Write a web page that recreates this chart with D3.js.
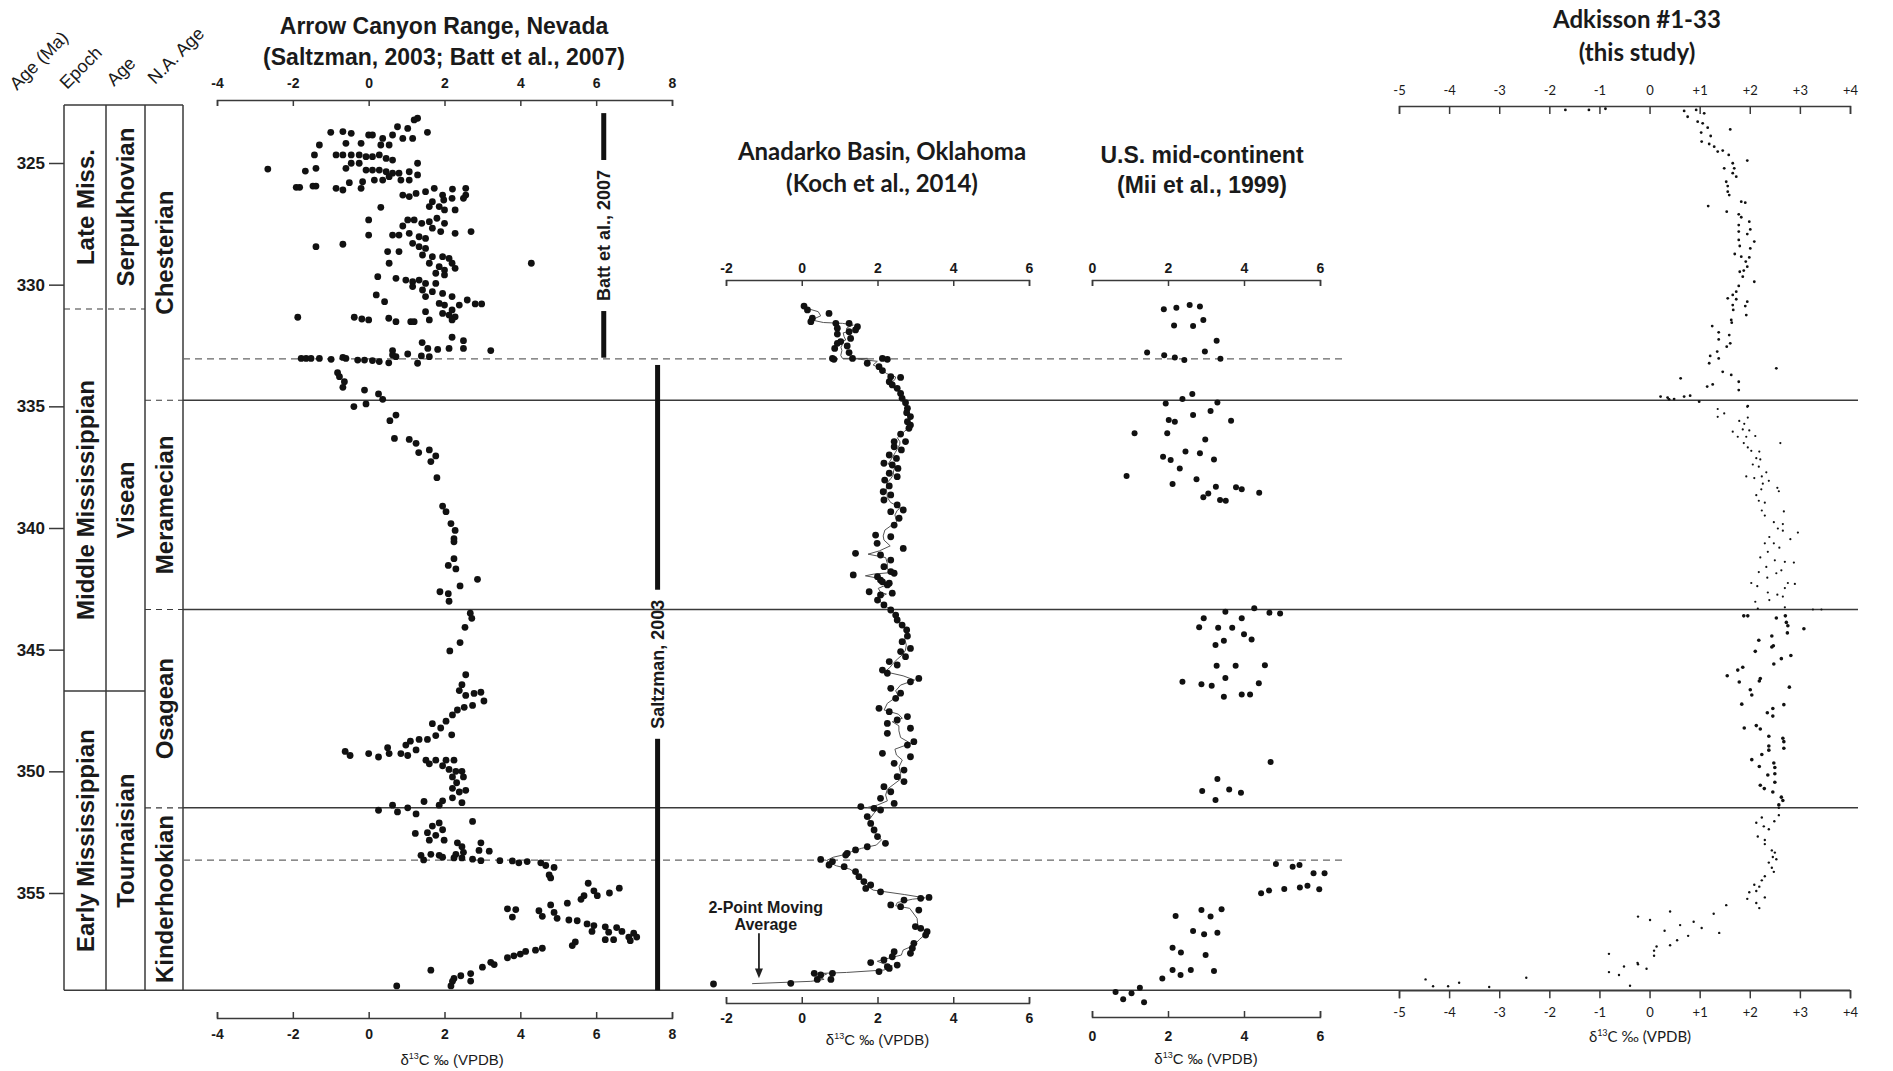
<!DOCTYPE html>
<html>
<head>
<meta charset="utf-8">
<script src="https://cdn.jsdelivr.net/npm/d3@7"></script>
<style>
  body { margin: 0; background: #fff; }
  svg { display: block; }
  text { font-family: "Liberation Sans", Arial, sans-serif; fill: #1a1a1a; }
</style>
</head>
<body>
<div id="chart"></div>
<script>
// ---- chronostratigraphy (ages in Ma) ----
const ageTicks = [325, 330, 335, 340, 345, 350, 355];
const epochNames = ["Late Miss.", "Middle Mississippian", "Early Mississippian"];
const epochBounds = [322.62, 331.0, 346.7, 359.0];
const stageNames = ["Serpukhovian", "Visean", "Tournaisian"];
const stageBounds = [322.62, 331.0, 346.7, 359.0];
const naNames = ["Chesterian", "Meramecian", "Osagean", "Kinderhookian"];
const naBounds = [322.62, 334.75, 343.35, 351.5, 359.0];
const solidLines = [334.75, 343.35, 351.5];
const dashedLines = [333.05, 353.65];
const headers = ["Age (Ma)", "Epoch", "Age", "N.A. Age"];

// ---- axis ticks ----
const arrowTicks = [-4, -2, 0, 2, 4, 6, 8];
const anadarkoTicks = [-2, 0, 2, 4, 6];
const miiTicks = [0, 2, 4, 6];
const adkTicks = [-5, -4, -3, -2, -1, 0, 1, 2, 3, 4];
const adkTickLabels = ["-5", "-4", "-3", "-2", "-1", "0", "+1", "+2", "+3", "+4"];

// ---- Arrow Canyon (Saltzman 2003; Batt et al. 2007) [age, d13C] ----
const arrowCanyon = [
[323.16,1.29],[323.23,1.20],[323.58,1.03],[323.51,0.76],[323.74,1.55],[323.74,-1.00],[323.71,-0.68],[323.78,-0.46],[323.85,0.00],[323.85,0.10],[323.99,0.37],[323.85,0.63],[323.99,0.90],[323.99,1.16],[324.19,-0.60],[324.19,-0.20],[324.26,0.32],[324.26,0.54],[324.26,-1.30],[324.67,-1.43],[324.67,-0.86],[324.67,-0.68],[324.67,-0.46],[324.67,-0.25],[324.74,-0.07],[324.74,0.10],[324.67,0.28],[324.81,0.46],[324.88,0.63],[325.01,1.29],
[325.25,-2.66],[325.33,-1.67],[325.22,-1.39],[325.22,-0.60],[325.01,-0.46],[325.01,-0.25],[325.29,-0.07],[325.29,0.10],[325.29,0.28],[325.36,0.46],[325.42,0.63],[325.42,0.80],[325.36,1.07],[325.49,1.29],
[325.77,-0.16],[325.70,0.15],[325.70,0.37],[325.56,0.54],[325.70,0.85],[325.70,1.07],[325.81,-0.51],
[326.00,-1.91],[326.00,-1.82],[325.95,-1.47],[325.95,-1.39],[326.04,-0.86],[326.11,-0.68],[326.04,-0.20],
[326.32,0.90],[326.38,1.07],[326.25,1.25],[326.18,1.50],[326.04,1.73],[326.32,1.95],[326.07,2.21],[326.04,2.56],[326.32,2.56],[326.45,2.50],[326.45,2.20],[326.52,1.98],[326.59,1.68],
[326.79,1.60],[326.79,1.86],[326.93,2.00],[326.93,2.28],[326.82,0.32],
[327.34,0.00],[327.34,1.03],[327.34,1.20],[327.48,1.40],[327.41,1.60],[327.27,1.80],[327.48,2.00],[327.68,1.68],[327.82,1.90],[327.89,2.28],[327.82,2.70],[327.59,0.90],
[327.96,0.63],[327.96,0.80],[327.89,1.07],[328.03,1.33],[328.10,1.50],[327.96,0.00],
[328.44,-1.39],[328.34,-0.68],[328.30,1.16],[328.44,1.33],[328.51,1.50],[328.64,0.50],[328.64,0.80],[328.78,1.42],[328.85,1.68],[328.85,1.95],[328.92,2.12],[329.12,2.20],[329.12,4.29],[329.12,0.54],[329.12,1.60],[329.26,1.86],[329.40,2.00],[329.33,2.28],[329.53,1.77],[329.60,2.00],
[329.67,0.24],[329.74,0.72],[329.81,0.98],[329.88,1.16],[329.81,1.33],[329.95,1.50],[329.95,1.77],[330.08,1.16],[330.22,1.42],[330.29,1.68],[330.36,1.95],[330.42,0.20],[330.49,1.50],[330.49,2.20],
[330.70,0.42],[330.77,1.86],[330.84,2.00],[330.84,2.39],[330.63,2.60],[330.79,2.81],[330.79,2.98],[331.04,2.20],[331.18,1.95],[331.25,2.12],[331.32,2.28],[331.11,1.50],
[331.34,-1.87],[331.34,-0.38],[331.41,-0.18],[331.45,0.00],[331.38,0.53],[331.52,0.72],[331.52,1.11],[331.52,1.20],[331.45,1.60],[331.45,2.20],
[332.16,2.20],[332.30,2.50],[332.62,2.50],[332.62,2.12],[332.66,1.82],[332.62,1.56],[332.38,1.41],[332.71,3.22],[332.93,1.39],[332.96,1.60],[332.85,1.03],[332.71,0.63],[332.96,0.72],[333.23,1.29],
[333.03,-1.78],[333.03,-1.65],[333.03,-1.52],[333.03,-1.30],[333.07,-0.99],[332.99,-0.68],[333.03,-0.60],[333.10,-0.29],[333.10,-0.11],[333.12,0.10],[333.16,0.28],[333.21,0.53],[332.89,0.63],
[333.62,-0.82],[333.78,-0.77],[333.99,-0.64],[334.22,-0.68],[334.33,-0.11],[334.49,0.26],[334.71,0.37],[334.90,-0.07],[335.01,-0.39],
[335.36,0.72],[335.59,0.56],[336.32,0.68],[336.36,1.07],[336.52,1.25],[336.90,1.32],[336.79,1.60],[337.04,1.77],[337.27,1.64],[337.93,1.80],
[339.10,1.95],[339.33,2.04],[339.82,2.17],[340.10,2.28],[340.44,2.25],[340.57,2.25],[341.26,2.25],[341.54,2.10],[341.68,2.30],[342.11,2.87],[342.38,2.41],[342.62,1.88],[342.70,2.10],[343.01,2.12],
[343.50,2.68],[343.71,2.72],[344.08,2.54],[344.71,2.41],[345.05,2.14],[346.03,2.56],[346.44,2.46],[346.68,2.39],[346.88,2.56],[346.80,2.78],[346.75,2.96],[347.11,3.04],[347.29,2.74],[347.37,2.52],[347.48,2.34],[347.68,2.21],[347.94,2.04],[348.04,1.68],[348.22,1.90],[348.50,2.19],[348.53,1.77],[348.69,1.55],[348.69,1.33],[348.76,1.10],[348.92,0.98],[349.12,1.25],[349.27,0.85],[349.35,1.03],[349.03,0.50],[349.27,0.54],[349.41,0.26],[349.27,0.00],[349.18,-0.62],[349.35,-0.49],
[349.54,1.51],[349.69,1.60],[349.54,1.77],[349.54,2.04],[349.54,2.25],[349.77,1.95],[349.92,2.12],[350.00,2.30],[350.00,2.46],[350.23,2.21],[350.23,2.50],[350.47,2.32],[350.70,2.21],[350.78,2.56],[350.85,2.39],[351.09,2.21],[351.29,2.46],[351.21,1.95],[351.24,1.46],[351.39,1.86],
[351.39,0.63],[351.60,0.26],[351.67,0.76],[351.50,1.03],[351.75,1.25],
[352.06,2.74],[352.12,1.86],[352.40,1.95],[352.25,1.68],[352.52,1.55],[352.55,1.23],[352.63,1.77],[352.83,1.60],[352.83,1.99],[352.94,2.34],[353.10,2.46],[352.94,2.96],[353.25,2.91],[353.28,3.18],
[353.45,1.38],[353.41,1.64],[353.45,1.86],[353.41,2.30],[353.33,2.50],[353.61,2.74],[353.64,1.45],[353.53,1.95],[353.56,2.25],[353.56,2.46],[353.67,2.96],
[353.67,3.46],[353.68,3.79],[353.76,3.96],[353.71,4.18],[353.76,4.54],[353.87,4.67],[353.95,4.89],[354.26,4.76],[354.38,4.80],
[354.60,5.79],[354.91,5.94],[355.11,6.03],[354.80,6.61],[355.00,6.35],[355.11,5.68],[355.26,5.60],[355.42,5.24],
[355.65,3.66],[355.68,3.88],[355.99,3.79],[355.73,4.49],[355.96,4.58],[355.49,4.80],[355.80,4.89],[356.04,4.97],
[356.11,5.28],[356.14,5.50],[356.27,5.76],[356.34,5.94],[356.58,5.89],[356.39,6.24],[356.61,6.33],[356.42,6.54],[356.58,6.68],[356.81,6.86],[356.65,6.99],[356.81,7.07],[356.92,6.24],[356.92,6.46],[356.96,6.90],
[357.01,5.45],[357.16,5.37],[357.27,4.58],[357.35,4.40],[357.40,4.14],[357.51,4.00],[357.58,3.83],[357.66,3.66],
[357.85,3.22],[357.94,3.31],[358.05,3.00],[358.17,1.64],[358.40,2.43],[358.51,2.25],[358.31,2.69],[358.62,2.69],[358.63,2.21],[358.82,2.17],[358.82,0.74]
];

// ---- Anadarko Basin (Koch et al. 2014) [age, d13C] ----
const anadarko = [
[330.88,0.06],[331.04,0.15],[331.18,0.72],[331.38,0.28],[331.52,0.24],[331.59,0.90],[331.59,1.25],[331.73,1.47],[331.79,0.94],[331.93,1.25],[331.86,1.42],[332.03,0.94],[332.21,1.29],[332.34,1.03],[332.41,0.94],[332.52,1.20],[332.62,0.87],[332.79,1.25],[333.03,0.81],[333.07,0.85],[333.03,1.34],[333.03,2.13],[333.07,2.26],[333.23,1.73],[333.37,2.04],[333.53,2.13],[333.78,2.35],[333.81,2.61],[333.99,2.31],[334.12,2.39],[334.26,2.52],[334.47,2.61],[334.67,2.65],[334.85,2.74],[335.08,2.79],[335.26,2.77],[335.42,2.87],[335.63,2.79],[335.77,2.87],[335.90,2.83],[336.14,2.61],[336.45,2.44],[336.45,2.74],[336.66,2.44],[336.79,2.63],[337.00,2.31],[337.14,2.50],[337.34,2.17],[337.41,2.39],[337.55,2.54],[337.75,2.31],[337.89,2.52],[338.03,2.19],[338.27,2.31],[338.51,2.15],[338.64,2.35],[338.85,2.17],[339.05,2.52],[339.26,2.68],[339.33,2.35],[339.60,2.57],[339.88,2.44],[340.29,1.95],[340.36,2.35],[340.63,1.99],[340.84,2.68],[341.04,1.42],[341.11,2.08],[341.32,2.35],[341.59,2.17],[341.93,1.36],[341.86,2.44],[342.14,2.08],[342.27,2.31],
[342.00,2.00],[341.79,2.35],[342.21,2.13],[342.34,2.26],[342.62,1.78],[342.75,2.08],[342.68,2.39],[342.96,2.00],[343.16,2.17],[343.37,2.35],[343.58,2.48],[343.78,2.52],[343.99,2.65],[344.19,2.77],[344.44,2.79],[344.67,2.65],[344.95,2.87],[345.08,2.61],[345.29,2.74],[345.49,2.31],[345.63,2.52],[345.84,2.13],[345.97,2.26],[346.18,3.09],[346.32,2.87],[346.59,2.35],[346.79,2.61],[347.00,2.48],[347.41,2.04],[347.55,2.31],[347.75,2.79],[347.89,2.52],[348.03,2.26],[348.23,2.87],[348.44,2.26],[348.78,2.96],[348.92,2.79],[349.26,2.13],[349.40,2.87],[349.67,2.44],[349.95,2.70],[350.22,2.52],[350.42,2.70],[350.63,2.17],[350.84,2.35],[351.11,2.08],[351.32,2.44],[351.45,1.56],[351.52,1.91],[351.59,2.08],[351.86,1.73],[352.14,1.82],[352.41,1.91],[352.68,2.00],[352.96,2.21],[353.10,1.73],[353.23,1.42],[353.37,1.20],[353.44,1.16],[353.62,0.50],[353.71,0.81],[353.85,0.72],[353.92,1.12],[354.12,1.42],[354.33,1.51],[354.53,1.64],[354.67,1.82],[354.81,1.69],[354.95,2.08],[355.18,3.36],[355.22,3.14],[355.29,2.70],[355.49,2.35],[355.56,2.61],[355.70,3.09],[356.38,3.00],[356.45,3.14],[356.59,3.31],[356.73,3.27],[357.07,2.96],[357.27,2.92],[357.48,2.87],[357.41,2.44],[357.62,2.39],[357.75,2.17],[357.96,2.52],[358.03,2.26],[357.86,1.82],[358.23,2.04],[358.10,2.31],[358.30,0.33],[358.37,0.50],[358.30,0.81],[358.55,0.41],[358.55,0.77],[358.71,-0.29],[358.74,-2.33]
];

// ---- U.S. mid-continent (Mii et al. 1999) [age, d13C] ----
const mii = [
[331.01,1.89],[330.95,2.22],[330.84,2.57],[330.90,2.84],[331.68,2.16],[331.70,2.66],[331.45,2.93],[332.30,3.28],[332.79,1.45],[332.90,1.90],[332.99,2.18],[333.10,2.43],[332.75,2.97],[333.04,3.38],[334.49,2.64],[334.70,2.38],[334.88,1.94],[334.84,3.30],[335.19,3.12],[335.36,2.66],[335.56,2.02],[335.63,2.18],[335.59,3.66],[336.11,1.12],[336.11,1.98],[336.36,2.98],[336.86,2.46],[336.93,2.84],[337.07,1.87],[337.21,2.07],[337.18,3.21],[337.55,2.31],[337.86,0.91],[338.19,2.12],[338.00,2.75],[338.30,3.26],[338.33,3.79],[338.41,3.94],[338.55,4.40],[338.74,2.93],[338.58,3.06],[338.85,3.37],[338.88,3.52],
[343.30,4.27],[343.44,3.51],[343.48,4.67],[343.51,4.95],[343.71,2.94],[343.71,3.94],[344.08,2.82],[344.10,3.32],[344.10,3.69],[344.37,4.00],[344.58,4.20],[344.63,3.47],[344.81,3.25],[345.66,3.28],[345.66,3.78],[345.64,4.55],[346.16,3.51],[346.32,2.38],[346.42,2.88],[346.48,3.15],[346.38,4.39],[346.93,3.47],[346.84,3.94],[346.84,4.16],[349.62,4.70],[350.32,3.30],[350.81,2.90],[350.75,3.61],[350.88,3.92],[351.18,3.25],
[353.81,4.84],[353.92,5.28],[353.85,5.46],[354.19,5.83],[354.19,6.12],[355.01,4.45],[354.90,4.66],[354.84,5.06],[354.77,5.47],[354.70,5.67],[354.85,5.98],[355.70,2.88],[355.67,3.41],[355.95,2.20],[355.97,3.12],[356.56,2.66],[356.70,2.95],[356.63,3.30],[357.25,2.12],[357.45,2.34],[357.55,2.99],[358.51,1.85],[358.16,2.12],[358.37,2.33],[358.16,2.60],[358.21,3.21],[359.07,0.62],[358.89,1.26],[359.12,1.04],[359.37,0.82],[359.49,1.37]
];

// ---- Adkisson #1-33 (this study) [age, d13C] ----
const adkTop = [
[322.82,-1.68],[322.82,-1.21],[322.77,-0.88],[322.86,0.69],[322.82,0.93],[322.96,1.09],[323.10,0.76],[323.30,0.96],[323.37,1.06],[323.55,1.16],[323.62,1.61],[323.75,1.03],[323.89,1.22],[324.12,1.04],[324.22,1.19],[324.33,1.29],[324.53,1.36],[324.49,1.46],[324.67,1.58],[324.90,1.95],[325.01,1.66],[325.22,1.49],[325.22,1.69],[325.42,1.66],[325.56,1.73],[325.77,1.53],[325.95,1.56],[326.18,1.56],[326.32,1.59],[326.59,1.83],[326.63,1.91],[326.77,1.17],[327.00,1.54],[327.11,1.78],[327.23,1.83],[327.41,1.99],[327.55,1.78],[327.73,2.01],[327.82,1.78],[327.92,1.95],[328.23,2.09],[328.16,1.78],[328.41,1.80],[328.51,2.01],[328.74,1.70],[328.85,1.83],[328.88,1.99],[329.05,1.92],[329.47,1.80],[329.42,1.88],[329.26,1.95],[329.67,1.86],[329.88,2.09],[330.05,1.78],[330.29,1.73],[330.42,1.66],[330.56,1.56],[330.60,1.73],[330.70,1.95],[330.84,1.66],[330.88,1.91],[331.04,1.67],[331.25,1.93],[331.45,1.63],[331.56,1.64],[331.70,1.25],[331.96,1.38],[332.07,1.59],[332.25,1.38],[332.41,1.61],[332.55,1.54],[332.75,1.35],[332.93,1.21],[333.03,1.38],[333.23,1.19],[333.58,1.46],[333.44,2.53],[333.71,1.63],[333.85,0.62],[333.99,1.78],[334.10,1.26],[334.19,1.15],[334.33,1.78],[334.60,0.22],[334.64,0.36],[334.71,0.39],[334.70,0.49],[334.60,0.69],[334.56,0.81],[334.81,0.99],[334.99,1.96]
];
const adkMeramecian = [
[335.02,1.95],[335.11,1.36],[335.29,1.49],[335.43,1.36],[335.46,1.96],[335.60,1.79],[335.72,1.89],[336.04,1.66],[335.95,1.86],[335.99,1.99],[336.25,1.76],[336.25,1.93],[336.22,2.11],[336.51,2.61],[336.51,1.88],[336.69,1.96],[336.83,2.03],[336.86,2.19],[337.13,2.13],[337.18,2.21],[337.39,2.06],[337.48,2.18],[337.88,1.93],[337.95,2.09],[337.88,2.24],[337.71,2.33],[338.06,2.38],[338.18,2.26],[338.35,2.55],[338.49,2.58],[338.41,2.23],[338.65,2.13],[338.88,2.18],[338.96,2.30],[339.28,2.24],[339.49,2.30],[339.32,2.68],[339.76,2.48],[339.84,2.66],[340.02,2.56],[340.11,2.66],[340.19,2.96],[340.46,2.81],[340.37,2.39],[340.63,2.30],[340.63,2.48],[340.81,2.59],[340.98,2.36],[341.21,2.21],[341.33,2.50],[341.39,2.70],[341.42,2.88],[341.60,2.33],[341.74,2.63],[341.81,2.18],[342.04,2.35],[341.86,2.53],[342.26,2.03],[342.39,2.15],[342.26,2.76],[342.30,2.90],[342.65,2.36],[342.74,2.55],[342.47,2.70],[343.03,2.11],[342.96,2.39],[342.82,2.66],[343.31,2.16],[343.26,2.70],[343.35,3.26],[343.35,3.43]
];
const adkOsagean = [
[343.61,1.88],[343.61,1.96],[343.70,2.53],[343.61,2.71],[343.88,2.73],[344.02,2.76],[344.14,3.08],[344.31,2.75],[344.44,2.44],[344.61,2.18],[344.84,2.47],[344.89,2.44],[345.07,2.11],[345.24,2.82],[345.37,2.63],[345.59,2.48],[345.84,1.76],[345.72,1.86],[346.07,1.55],[346.33,1.79],[346.19,2.21],[346.29,2.19],[346.54,2.79],[346.65,2.01],[346.86,2.04],[347.24,1.84],[347.26,2.68],[347.59,2.35],[347.42,2.46],[347.73,2.46],[348.22,1.89],[348.12,2.13],[348.26,2.21],[348.56,2.38],[348.64,2.66],[348.78,2.68],[348.96,2.38],[349.13,2.38],[349.31,2.24],[349.05,2.68],[349.52,2.04],[349.66,2.48],[349.84,2.50],[349.80,2.19],[350.10,2.50],[350.15,2.36],[350.57,2.21],[350.71,2.29],[350.45,2.50],[350.85,2.46],[351.06,2.63],[351.20,2.66],[351.38,2.58]
];
const adkKinderhook = [
[351.50,2.58],[351.80,2.58],[351.90,2.24],[352.11,2.13],[352.05,2.49],[352.26,2.28],[352.38,2.38],[352.68,2.16],[352.82,2.30],[352.99,2.30],[353.25,2.44],[353.34,2.50],[353.52,2.46],[353.61,2.53],[353.75,2.38],[353.96,2.44],[354.13,2.48],[354.31,2.30],[354.48,2.24],[354.66,2.09],[354.74,2.19],[354.97,1.99],[354.92,2.13],[355.24,1.95],[355.18,2.30],[355.41,2.13],[355.62,2.19],[355.50,1.53],[355.76,0.41],[355.85,1.28],[355.97,-0.23],[356.11,0.01],[356.18,0.88],[356.44,1.04],[356.64,1.39],[356.55,0.30],[356.32,0.61],[356.76,0.77],[356.94,0.55],[357.15,0.41],[357.20,0.14],[357.37,0.09],[357.58,0.09],[357.50,-0.81],[357.87,-0.24],[357.93,-0.23],[358.02,-0.51],[358.11,-0.06],[358.25,-0.81],[358.37,-0.61],[358.81,-0.39],[358.48,-2.46],[358.55,-4.47],[358.83,-4.32],[358.83,-4.02],[358.69,-3.80],[358.86,-3.20]
];

// ---- reference bars on the Arrow Canyon panel ----
const battBar = [322.95, 333.0];
const saltzmanBar = [333.3, 359.0];

// ---------------------------------------------------------------
const width = 1893, height = 1071;
const colLeft = 64, colEdges = [64, 106, 145, 183];
const lineColor = "#3a3a3a";

const svg = d3.select("#chart").append("svg")
    .attr("width", width)
    .attr("height", height)
    .style("background", "#fff");

// age scale, shared by every panel
const y = d3.scaleLinear().domain([325, 355]).range([163, 893]);

const xArrow = d3.scaleLinear().domain([-4, 8]).range([217, 672]);
const xAna = d3.scaleLinear().domain([-2, 6]).range([726, 1029]);
const xMii = d3.scaleLinear().domain([0, 6]).range([1092, 1320]);
const xAdk = d3.scaleLinear().domain([-5, 4]).range([1399, 1850]);

const frameTop = y(epochBounds[0]), frameBottom = y(359.0);
const plain = d => String(d);   // keep the hyphen minus of the original

// ---- age axis on the left ----
const ageAxis = svg.append("g")
    .attr("transform", `translate(${colLeft},0)`)
    .call(d3.axisLeft(y).tickValues(ageTicks).tickSize(15).tickPadding(4).tickFormat(plain));
ageAxis.select(".domain").remove();
ageAxis.selectAll("line").attr("stroke", lineColor).attr("stroke-width", 1.5);
ageAxis.selectAll("text")
    .style("font-family", "'Liberation Sans', Arial, sans-serif")
    .style("font-size", "17px").style("font-weight", "bold").attr("fill", "#222");

// ---- stratigraphic columns ----
const cols = svg.append("g");
colEdges.forEach(x => {
    cols.append("line").attr("x1", x).attr("x2", x).attr("y1", frameTop).attr("y2", frameBottom)
        .attr("stroke", lineColor).attr("stroke-width", 1.5);
});
cols.append("line").attr("x1", colEdges[0]).attr("x2", colEdges[3]).attr("y1", frameTop).attr("y2", frameTop)
    .attr("stroke", lineColor).attr("stroke-width", 1.5);
// bottom line runs across the whole figure
cols.append("line").attr("x1", colEdges[0]).attr("x2", xAdk(4)).attr("y1", frameBottom).attr("y2", frameBottom)
    .attr("stroke", lineColor).attr("stroke-width", 1.5);

// epoch / stage boundaries
cols.append("line").attr("x1", colEdges[0]).attr("x2", colEdges[2])
    .attr("y1", y(epochBounds[1])).attr("y2", y(epochBounds[1]))
    .attr("stroke", lineColor).attr("stroke-width", 1.2).attr("stroke-dasharray", "6,5");
cols.append("line").attr("x1", colEdges[0]).attr("x2", colEdges[2])
    .attr("y1", y(epochBounds[2])).attr("y2", y(epochBounds[2]))
    .attr("stroke", lineColor).attr("stroke-width", 1.5);

// N.A. stage boundaries: dashed in the column, solid across the plots
solidLines.forEach(a => {
    cols.append("line").attr("x1", colEdges[2]).attr("x2", colEdges[3]).attr("y1", y(a)).attr("y2", y(a))
        .attr("stroke", lineColor).attr("stroke-width", 1.2).attr("stroke-dasharray", "6,5");
    svg.append("line").attr("x1", colEdges[3]).attr("x2", 1858).attr("y1", y(a)).attr("y2", y(a))
        .attr("stroke", lineColor).attr("stroke-width", 1.5);
});
dashedLines.forEach(a => {
    svg.append("line").attr("x1", colEdges[3]).attr("x2", 1342).attr("y1", y(a)).attr("y2", y(a))
        .attr("stroke", "#666").attr("stroke-width", 1.2).attr("stroke-dasharray", "7,5");
});

function columnLabels(names, bounds, x0, x1) {
    names.forEach((n, i) => {
        const cy = (y(bounds[i]) + y(bounds[i + 1])) / 2;
        cols.append("text")
            .attr("transform", `translate(${(x0 + x1) / 2},${cy}) rotate(-90)`)
            .attr("text-anchor", "middle")
            .attr("dy", "0.36em")
            .style("font-size", "24px").style("font-weight", "bold")
            .text(n);
    });
}
columnLabels(epochNames, epochBounds, colEdges[0], colEdges[1]);
columnLabels(stageNames, stageBounds, colEdges[1], colEdges[2]);
columnLabels(naNames, naBounds, colEdges[2], colEdges[3]);

// slanted column headers
const headerPos = [[17, 91], [67, 90], [114, 87], [155, 85]];
headers.forEach((h, i) => {
    svg.append("text")
        .attr("transform", `translate(${headerPos[i][0]},${headerPos[i][1]}) rotate(-45)`)
        .style("font-size", "18px").attr("fill", "#333")
        .text(h);
});

// ---- axis helpers ----
function styleAxis(g, size, weight, family) {
    g.selectAll(".domain").attr("stroke", lineColor).attr("stroke-width", 1.5);
    g.selectAll(".tick line").attr("stroke", lineColor).attr("stroke-width", 1.5);
    g.selectAll("text")
        .style("font-family", family || "'Liberation Sans', Arial, sans-serif")
        .style("font-size", size + "px").style("font-weight", weight).attr("fill", "#222");
}

function deltaTitle(x, yPos, family, size) {
    const t = svg.append("text").attr("x", x).attr("y", yPos).attr("text-anchor", "middle")
        .style("font-family", family).style("font-size", size + "px").attr("fill", "#333");
    t.append("tspan").text("δ");
    t.append("tspan").attr("dy", -6).style("font-size", (size * 0.6) + "px").text("13");
    t.append("tspan").attr("dy", 6).text("C ‰  (VPDB)");
}

function panelTitle(lines, x, ys, family, size) {
    lines.forEach((l, i) => {
        svg.append("text").attr("x", x).attr("y", ys[i]).attr("text-anchor", "middle")
            .style("font-family", family).style("font-size", size + "px").style("font-weight", "bold")
            .attr("fill", "#222").text(l);
    });
}

const arial = "'Liberation Sans', Arial, sans-serif";
const lato = "Lato, 'Open Sans', sans-serif";

// Arrow Canyon axes
svg.append("g").attr("transform", "translate(0,100)")
    .call(d3.axisTop(xArrow).tickValues(arrowTicks).tickSize(-6).tickPadding(12).tickFormat(plain))
    .call(g => styleAxis(g, 14, "bold"));
svg.append("g").attr("transform", "translate(0,1018)")
    .call(d3.axisBottom(xArrow).tickValues(arrowTicks).tickSize(-6).tickPadding(11).tickFormat(plain))
    .call(g => styleAxis(g, 14, "bold"));
deltaTitle(xArrow(2.2), 1065, arial, 15);
panelTitle(["Arrow Canyon Range, Nevada", "(Saltzman, 2003; Batt et al., 2007)"], 444, [34, 65], arial, 23);

// Anadarko axes
svg.append("g").attr("transform", "translate(0,280)")
    .call(d3.axisTop(xAna).tickValues(anadarkoTicks).tickSize(-6).tickPadding(7).tickFormat(plain))
    .call(g => styleAxis(g, 14, "bold"));
svg.append("g").attr("transform", "translate(0,1003)")
    .call(d3.axisBottom(xAna).tickValues(anadarkoTicks).tickSize(-6).tickPadding(10).tickFormat(plain))
    .call(g => styleAxis(g, 14, "bold"));
deltaTitle(xAna(2), 1045, arial, 15);
panelTitle(["Anadarko Basin, Oklahoma", "(Koch et al., 2014)"], 882, [160, 192], lato, 24);

// Mii axes
svg.append("g").attr("transform", "translate(0,280)")
    .call(d3.axisTop(xMii).tickValues(miiTicks).tickSize(-6).tickPadding(7).tickFormat(plain))
    .call(g => styleAxis(g, 14, "bold"));
svg.append("g").attr("transform", "translate(0,1017)")
    .call(d3.axisBottom(xMii).tickValues(miiTicks).tickSize(-6).tickPadding(14).tickFormat(plain))
    .call(g => styleAxis(g, 14, "bold"));
deltaTitle(xMii(3), 1064, arial, 15);
panelTitle(["U.S. mid-continent", "(Mii et al., 1999)"], 1202, [163, 193], arial, 23);

// Adkisson axes
svg.append("g").attr("transform", "translate(0,106)")
    .call(d3.axisTop(xAdk).tickValues(adkTicks).tickSize(-8).tickPadding(11)
        .tickFormat((d, i) => adkTickLabels[i]))
    .call(g => styleAxis(g, 13, "normal", lato));
svg.append("g").attr("transform", `translate(0,${frameBottom})`)
    .call(d3.axisBottom(xAdk).tickValues(adkTicks).tickSize(8).tickPadding(9)
        .tickFormat((d, i) => adkTickLabels[i]))
    .call(g => styleAxis(g, 13, "normal", lato));
deltaTitle(1640, 1042, lato, 15);
panelTitle(["Adkisson #1-33", "(this study)"], 1637, [28, 61], lato, 24);

// ---- reference bars with rotated labels ----
function refBar(range, xVal, labelAge, label) {
    const bx = xArrow(xVal);
    const lbl = svg.append("text")
        .attr("transform", `translate(${bx},${y(labelAge)}) rotate(-90)`)
        .attr("text-anchor", "middle").attr("dy", "0.36em")
        .style("font-size", "18px").style("font-weight", "bold")
        .text(label);
    const half = lbl.node().getComputedTextLength() / 2 + 10;
    const segs = [[y(range[0]), y(labelAge) - half], [y(labelAge) + half, y(range[1])]];
    segs.forEach(s => {
        svg.append("rect").attr("x", bx - 2.5).attr("width", 5)
            .attr("y", s[0]).attr("height", Math.max(0, s[1] - s[0])).attr("fill", "#111");
    });
}
refBar(battBar, 6.2, 327.98, "Batt et al., 2007");
refBar(saltzmanBar, 7.62, 345.6, "Saltzman, 2003");

// ---- data ----
function dots(data, xs, r) {
    svg.append("g").selectAll("circle")
        .data(data)
        .join("circle")
        .attr("cx", d => xs(d[1]))
        .attr("cy", d => y(d[0]))
        .attr("r", r)
        .attr("fill", "#111");
}

dots(arrowCanyon, xArrow, 3.4);

// 2-point moving average through the Anadarko samples
const anaSorted = anadarko.slice().sort((a, b) => a[0] - b[0]);
const movAvg = d3.range(anaSorted.length - 1).map(i =>
    [(anaSorted[i][0] + anaSorted[i + 1][0]) / 2, (anaSorted[i][1] + anaSorted[i + 1][1]) / 2]);
svg.append("path")
    .datum(movAvg)
    .attr("fill", "none").attr("stroke", "#555").attr("stroke-width", 1)
    .attr("d", d3.line().x(d => xAna(d[1])).y(d => y(d[0])));
dots(anadarko, xAna, 3.4);

dots(mii, xMii, 3);

dots(adkTop, xAdk, 1.4);
dots(adkMeramecian, xAdk, 1.1);
dots(adkOsagean, xAdk, 1.8);
dots(adkKinderhook, xAdk, 1.2);

// ---- moving-average annotation ----
const ann = svg.append("g");
ann.append("text").attr("x", xAna(-0.95)).attr("y", y(355.58)).attr("dy", "0.36em")
    .attr("text-anchor", "middle").style("font-size", "16px").style("font-weight", "bold")
    .text("2-Point Moving");
ann.append("text").attr("x", xAna(-0.95)).attr("y", y(356.28)).attr("dy", "0.36em")
    .attr("text-anchor", "middle").style("font-size", "16px").style("font-weight", "bold")
    .text("Average");
const ax = xAna(-1.13);
ann.append("line").attr("x1", ax).attr("x2", ax).attr("y1", y(356.65)).attr("y2", y(358.2))
    .attr("stroke", "#222").attr("stroke-width", 1.8);
ann.append("path")
    .attr("d", `M${ax - 4},${y(358.1)} L${ax + 4},${y(358.1)} L${ax},${y(358.5)} Z`)
    .attr("fill", "#222");
</script>
</body>
</html>
